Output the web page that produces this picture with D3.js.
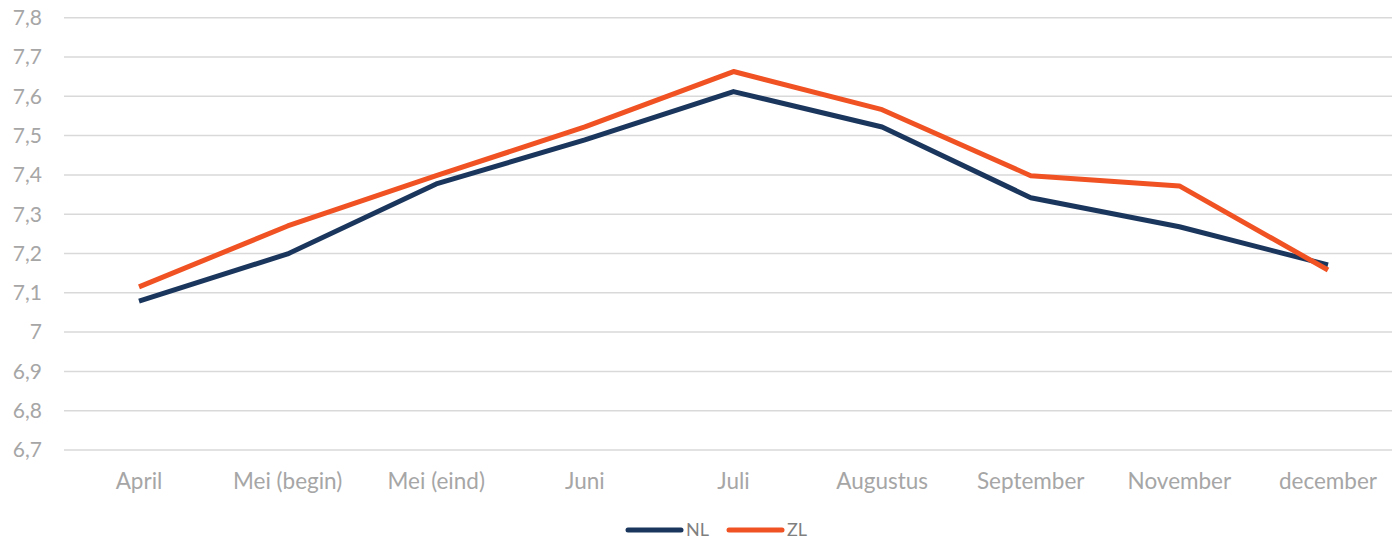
<!DOCTYPE html>
<html>
<head>
<meta charset="utf-8">
<script src="https://cdn.jsdelivr.net/npm/d3@7"></script>
<style>
  body { margin: 0; background: #fff; }
  text { font-family: Lato, "Open Sans", sans-serif; fill: #a6a6a6; }
</style>
</head>
<body>
<svg width="1392" height="542"></svg>
<script>
const categories = ['April','Mei (begin)','Mei (eind)','Juni','Juli','Augustus','September','November','december']
const nlValues = [7.079, 7.199, 7.377, 7.489, 7.612, 7.522, 7.342, 7.268, 7.171]
const zlValues = [7.115, 7.270, 7.398, 7.522, 7.663, 7.566, 7.398, 7.372, 7.158]
const yTicks = [6.7, 6.8, 6.9, 7.0, 7.1, 7.2, 7.3, 7.4, 7.5, 7.6, 7.7, 7.8]

const series = [
  {name: 'NL', values: nlValues, color: '#1b365d'},
  {name: 'ZL', values: zlValues, color: '#f05223'}
]

const svg = d3.select('svg')

const x = d3.scalePoint()
  .domain(categories)
  .range([139, 1328])

const y = d3.scaleLinear()
  .domain([6.7, 7.8])
  .range([450, 17.7])

const fmt = d => d3.format('.1f')(d).replace('.', ',').replace(',0', '')

// gridlines
svg.append('g')
  .selectAll('line')
  .data(yTicks)
  .enter().append('line')
    .attr('x1', 64)
    .attr('x2', 1402)
    .attr('y1', d => y(d))
    .attr('y2', d => y(d))
    .attr('stroke', '#d9d9d9')
    .attr('stroke-width', 1.5)

// y labels
svg.append('g')
  .selectAll('text')
  .data(yTicks)
  .enter().append('text')
    .attr('x', 42)
    .attr('y', d => y(d))
    .attr('dy', '0.35em')
    .attr('text-anchor', 'end')
    .style('font-size', '21px')
    .text(fmt)

// x labels
svg.append('g')
  .selectAll('text')
  .data(categories)
  .enter().append('text')
    .attr('x', d => x(d))
    .attr('y', 481)
    .attr('dy', '0.35em')
    .attr('text-anchor', 'middle')
    .style('font-size', '22.5px')
    .text(d => d)

const line = d3.line()
  .x((d, i) => x(categories[i]))
  .y(d => y(d))

svg.append('g')
  .selectAll('path')
  .data(series)
  .enter().append('path')
    .attr('d', d => line(d.values))
    .attr('fill', 'none')
    .attr('stroke', d => d.color)
    .attr('stroke-width', 5)
    .attr('stroke-linejoin', 'round')

// legend
const legend = svg.append('g')
  .selectAll('g')
  .data(series)
  .enter().append('g')
    .attr('transform', (d, i) => `translate(${628 + i * 101},530)`)

legend.append('line')
  .attr('x1', 0)
  .attr('x2', 53)
  .attr('stroke', d => d.color)
  .attr('stroke-width', 5)
  .attr('stroke-linecap', 'round')

legend.append('text')
  .attr('x', 58)
  .attr('dy', '0.35em')
  .style('font-size', '18px')
  .style('fill', '#7f7f7f')
  .text(d => d.name)
</script>
</body>
</html>
